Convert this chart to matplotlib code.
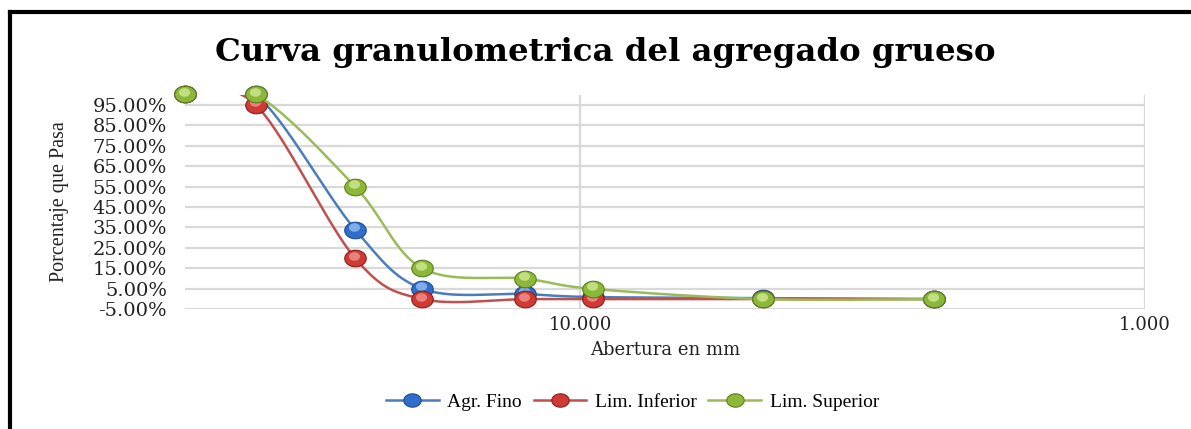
import numpy as np
import matplotlib
matplotlib.use("Agg")
import matplotlib.pyplot as plt
from matplotlib.lines import Line2D
from matplotlib.transforms import offset_copy

# ---------------- data ----------------
sieve_mm = [50.0, 37.5, 25.0, 19.0, 12.5, 9.5, 4.75, 2.36]
agr_fino = [100, 100, 34, 5, 2.5, 1, 0.5, 0]
lim_inferior = [100, 95, 20, 0, 0, 0, 0, 0]
lim_superior = [100, 100, 55, 15, 10, 5, 0, 0]
series_names = ["Agr. Fino", "Lim. Inferior", "Lim. Superior"]
y_ticks = [-5, 5, 15, 25, 35, 45, 55, 65, 75, 85, 95]
y_tick_labels = ["%.2f%%" % v for v in y_ticks]
x_ticks = [10.0, 1.0]
x_tick_labels = ["10.000", "1.000"]
title = "Curva granulometrica del agregado grueso"
x_label = "Abertura en mm"
y_label = "Porcentaje que Pasa"

# ---------------- style ----------------
W, H = 1191, 429
line_colors = ["#4A7EBB", "#C0504D", "#9BBB59"]
face_colors = ["#2F6FCB", "#CF3A35", "#8CB83A"]
edge_colors = ["#1D4C8F", "#8A1E1B", "#5D7D22"]
hi_colors = ["#9CC2F2", "#F29A96", "#D3EC9A"]

theta = np.linspace(0, 2 * np.pi, 60)
ellipse = np.column_stack([1.3 * np.cos(theta), np.sin(theta)])


def excel_smooth(xs, ys, n=40):
    u = np.log10(np.asarray(xs, float))
    v = np.asarray(ys, float)
    P = np.column_stack([u, v])
    m = len(P)
    out = []
    for i in range(m - 1):
        p0 = P[i - 1] if i > 0 else P[i]
        p1 = P[i]
        p2 = P[i + 1]
        p3 = P[i + 2] if i + 2 < m else P[i + 1]
        c1 = p1 + (p2 - p0) / 6.0
        c2 = p2 - (p3 - p1) / 6.0
        t = np.linspace(0, 1, n)[:, None]
        seg = ((1 - t) ** 3) * p1 + 3 * ((1 - t) ** 2) * t * c1 + 3 * (1 - t) * t ** 2 * c2 + t ** 3 * p2
        out.append(seg if i == 0 else seg[1:])
    out = np.vstack(out)
    return 10 ** out[:, 0], out[:, 1]


fig = plt.figure(figsize=(W / 100, H / 100), dpi=100)
fig.patch.set_facecolor("white")

ax_l, ax_r = 185 / W, 1145 / W
ax_t, ax_b = 1 - 94.5 / H, 1 - 309.3 / H
ax = fig.add_axes([ax_l, ax_b, ax_r - ax_l, ax_t - ax_b])
ax.set_xscale("log")
ax.set_xlim(50, 1)
ax.set_ylim(-5, 100)

for s in ax.spines.values():
    s.set_visible(False)

ax.set_yticks(y_ticks)
ax.set_yticklabels(y_tick_labels, fontfamily="DejaVu Serif", fontsize=14)
ax.set_xticks(x_ticks)
ax.set_xticklabels(x_tick_labels, fontfamily="DejaVu Serif", fontsize=13)
ax.xaxis.set_minor_locator(matplotlib.ticker.NullLocator())
ax.tick_params(axis="y", length=0, pad=13, colors="#222222")
ax.tick_params(axis="x", length=0, pad=5, colors="#222222")
ax.grid(True, which="major", color="#D9D9D9", linewidth=1.6)
ax.set_axisbelow(True)

all_series = [agr_fino, lim_inferior, lim_superior]
for k, ys in enumerate(all_series):
    sx, sy = excel_smooth(sieve_mm, ys)
    ax.plot(sx, sy, color=line_colors[k], lw=1.8, zorder=3 + k, solid_capstyle="round")
    ax.plot(sieve_mm, ys, ls="none", marker=ellipse, markersize=15.5,
            markerfacecolor=face_colors[k], markeredgecolor=edge_colors[k],
            markeredgewidth=0.8, zorder=3 + k, clip_on=False)
    tr = offset_copy(ax.transData, fig=fig, x=-1.0, y=2.5, units="dots")
    ax.plot(sieve_mm, ys, ls="none", marker=ellipse, markersize=8,
            markerfacecolor=hi_colors[k], markeredgecolor="none", alpha=0.75,
            transform=tr, zorder=3 + k, clip_on=False)

ax.set_xlabel(x_label, fontfamily="DejaVu Serif", fontsize=13, color="#222222")
ax.xaxis.label.set_va("center")
ax.xaxis.set_label_coords(0.5, (309.3 - 350) / 214.8)
ax.set_ylabel(y_label, fontfamily="Liberation Serif", fontsize=14.5, color="#222222")
ax.yaxis.label.set_va("center")
ax.yaxis.set_label_coords((60 - 185) / 960, 0.5)

fig.text(605 / W, 1 - 61 / H, title, ha="center", va="baseline",
         fontfamily="DejaVu Serif", fontweight="bold", fontsize=23.3, color="black")

handles = [Line2D([], [], color=line_colors[k], lw=1.8, marker=ellipse, markersize=12.5,
                  markerfacecolor=face_colors[k], markeredgecolor=edge_colors[k],
                  markeredgewidth=0.8) for k in range(3)]
fig.legend(handles, series_names, ncol=3, loc="center",
           bbox_to_anchor=(632.5 / W, 1 - 402 / H), frameon=False,
           prop={"family": "Liberation Serif", "size": 14},
           handlelength=2.7, handletextpad=0.45, columnspacing=0.6)

# outer frame of the chart object
fig.add_artist(Line2D([10 / W, 10 / W], [0, 1 - 11.6 / H], transform=fig.transFigure,
                      color="black", lw=3.0, solid_capstyle="projecting"))
fig.add_artist(Line2D([10 / W, 1], [1 - 11.6 / H, 1 - 11.6 / H], transform=fig.transFigure,
                      color="black", lw=3.0, solid_capstyle="projecting"))

fig.savefig("out.png", dpi=100, facecolor="white")
